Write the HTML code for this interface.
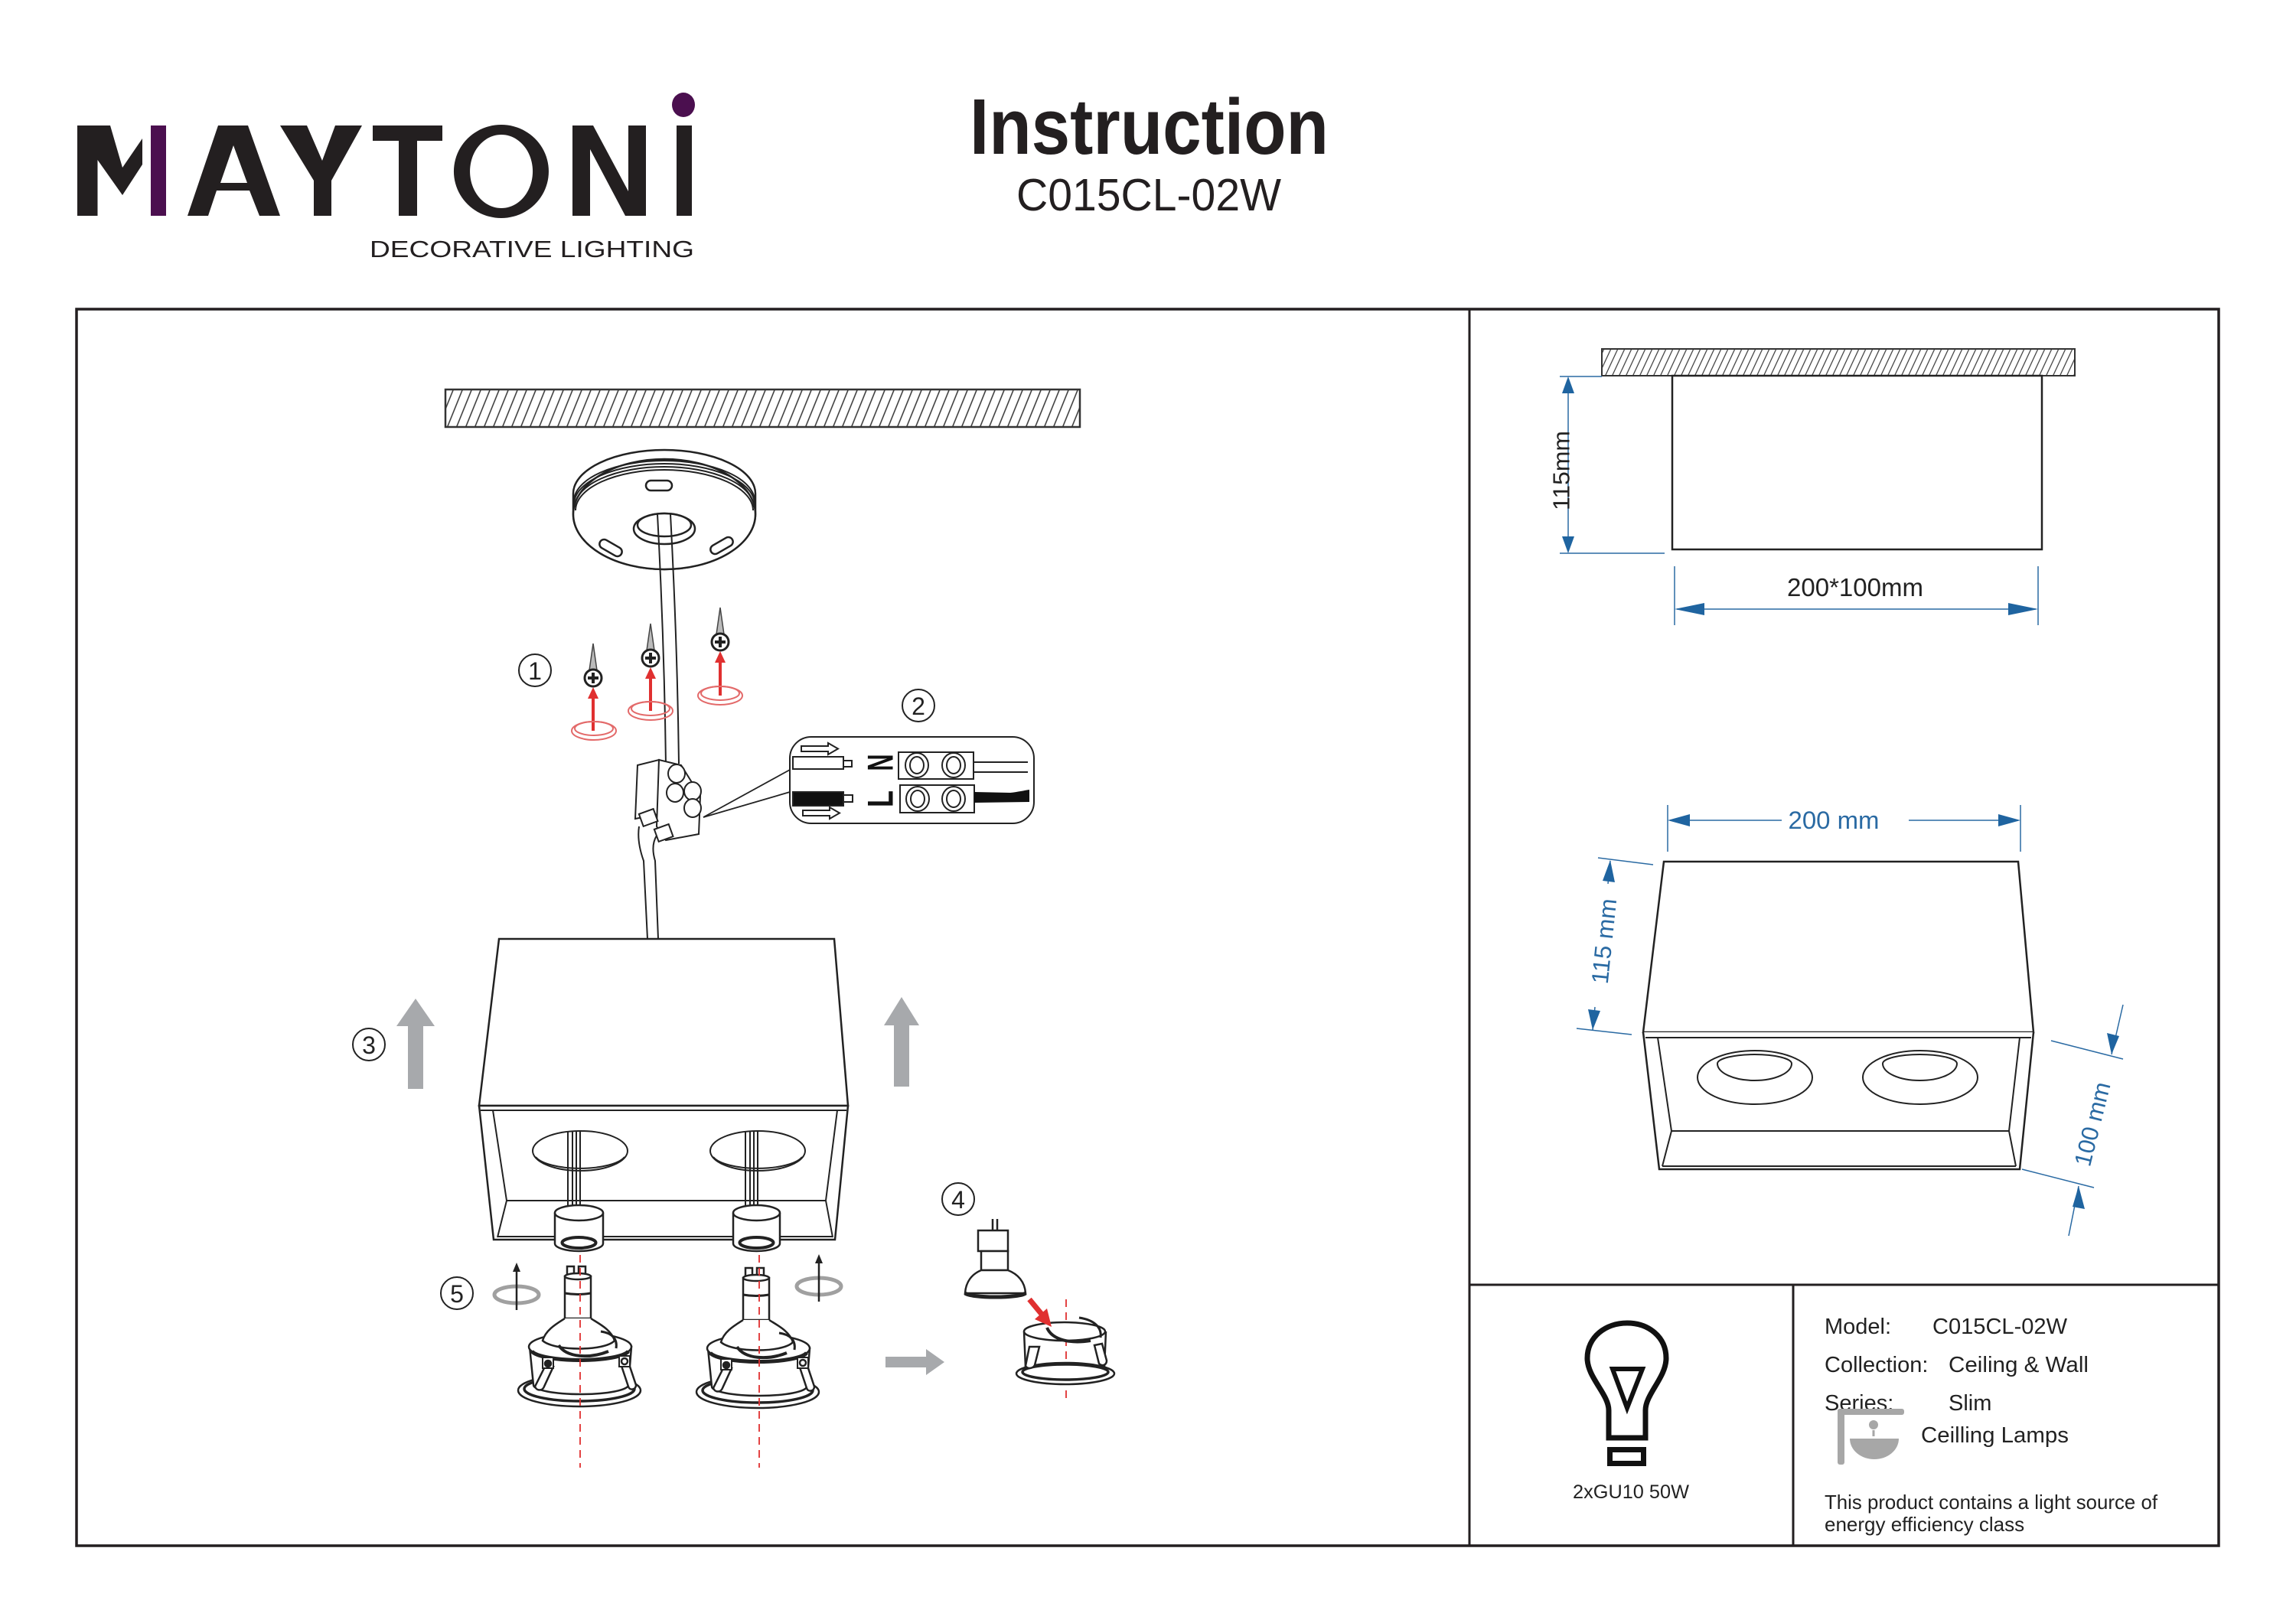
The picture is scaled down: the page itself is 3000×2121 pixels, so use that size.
<!DOCTYPE html>
<html><head><meta charset="utf-8"><style>
html,body{margin:0;padding:0;background:#fff;}
svg{display:block;}
text{font-family:"Liberation Sans",Arial,sans-serif;}
</style></head><body>
<svg width="3000" height="2121" viewBox="0 0 3000 2121" xmlns="http://www.w3.org/2000/svg">
<defs>
<pattern id="h1" patternUnits="userSpaceOnUse" width="12" height="60" patternTransform="skewX(-22)"><line x1="6" y1="-5" x2="6" y2="65" stroke="#333" stroke-width="1.6"/></pattern>
<pattern id="h2" patternUnits="userSpaceOnUse" width="9" height="60" patternTransform="skewX(-25)"><line x1="4.5" y1="-5" x2="4.5" y2="65" stroke="#333" stroke-width="1.3"/></pattern>
<g id="dl" fill="none" stroke="#222" stroke-width="2.5">
  <rect x="-14" y="-105" width="9" height="11" fill="#fff"/>
  <rect x="1" y="-105" width="9" height="11" fill="#fff"/>
  <path d="M-17,-92 L-17,-37 L17,-37 L17,-92 Z" fill="#fff"/>
  <ellipse cx="0" cy="-92" rx="17" ry="4" fill="#fff"/>
  <path d="M-17,-70 Q0,-67 17,-70" stroke-width="3"/>
  <ellipse cx="2" cy="57" rx="80" ry="21" fill="#fff"/>
  <ellipse cx="2" cy="55" rx="72" ry="16" stroke-width="3.5"/>
  <path d="M-63,0 L-58,50 A62,12 0 0 0 66,50 L70,0 Z" fill="#fff"/>
  <ellipse cx="3" cy="0" rx="67" ry="18" fill="#fff"/>
  <path d="M-17,-37 C-28,-30 -42,-22 -46,-8 C-30,6 35,6 48,-8 C44,-22 28,-30 17,-37" fill="#fff"/>
  <path d="M-60,6 A64,14 0 0 0 66,6" stroke-width="5"/>
  <path d="M-25,-2 C-15,14 15,16 40,6" stroke-width="4"/>
  <path d="M30,-20 C45,-18 52,-10 50,2" stroke-width="3"/>
  <path d="M-42,24 L-56,52 C-54,58 -46,58 -44,52 L-32,26 Z" fill="#fff"/>
  <path d="M56,22 L66,52 C68,58 76,56 76,50 L66,20 Z" fill="#fff"/>
  <rect x="-46" y="14" width="14" height="14" fill="#fff" stroke-width="2"/>
  <rect x="54" y="12" width="14" height="14" fill="#fff" stroke-width="2"/>
  <circle cx="-39" cy="22" r="4" fill="#222"/>
  <circle cx="61" cy="19" r="4" fill="#fff"/>
</g>
</defs>

<!-- LOGO -->
<polygon points="101,164 144,164 160,219 186,181 186,215 160,255 127.5,209 127.5,282 101,282" fill="#231f20"/>
<rect x="197" y="164" width="20" height="118" fill="#4b0f4f"/>
<path d="M245,282 L285,164 L324,164 L366,282 L339,282 L326,249 L283,249 L272,282 Z M288,239 L323,239 L305,190 Z" fill="#231f20" fill-rule="evenodd"/>
<polygon points="366,164 401,164 421,210 438,164 473,164 433,236 433,282 410,282 410,236" fill="#231f20"/>
<path d="M487,164 L578,164 L578,184 L545,184 L545,282 L521,282 L521,184 L487,184 Z" fill="#231f20"/>
<path d="M655,163 A62,61 0 1 1 654.9,163 Z M655,176 A41,48 0 1 0 655.1,176 Z" fill="#231f20" fill-rule="evenodd"/>
<polygon points="748,164 775,164 821,250 821,164 844,164 844,282 817,282 771,195 771,282 748,282" fill="#231f20"/>
<rect x="884" y="164" width="20" height="118" fill="#231f20"/>
<ellipse cx="893" cy="137" rx="15" ry="16" fill="#4b0f4f"/>
<text x="483" y="336" font-size="31" textLength="424" lengthAdjust="spacingAndGlyphs" fill="#231f20">DECORATIVE LIGHTING</text>

<!-- TITLE -->
<text x="1267" y="201" font-size="103" font-weight="bold" textLength="469" lengthAdjust="spacingAndGlyphs" fill="#231f20">Instruction</text>
<text x="1328" y="275" font-size="59" textLength="346" lengthAdjust="spacingAndGlyphs" fill="#231f20">C015CL-02W</text>

<!-- FRAME -->
<g stroke="#231f20" fill="none">
<rect x="100" y="404" width="2799" height="1616" stroke-width="3.5"/>
<line x1="1920" y1="404" x2="1920" y2="2020" stroke-width="3"/>
<line x1="1920" y1="1679" x2="2899" y2="1679" stroke-width="3"/>
<line x1="2343" y1="1679" x2="2343" y2="2020" stroke-width="3"/>
</g>

<!-- LEFT: ceiling -->
<rect x="582" y="509" width="829" height="49" fill="url(#h1)" stroke="#333" stroke-width="2.5"/>

<!-- canopy -->
<g stroke="#222" stroke-width="2.5" fill="#fff">
<path d="M749,645 A119,57 0 0 1 987,645 L987,672 A119,72 0 0 1 749,672 Z"/>
<ellipse cx="868" cy="672" rx="119" ry="72"/>
<g fill="none" stroke-width="2">
<path d="M750,655 A118,53 0 0 1 986,655"/>
<path d="M750,659 A118,53 0 0 1 986,659"/>
<path d="M751,663 A117,53 0 0 1 985,663"/>
<path d="M752,667 A116,53 0 0 1 984,667"/>
</g>
<ellipse cx="868" cy="691" rx="40" ry="20"/>
<ellipse cx="868" cy="686" rx="35" ry="15"/>
<rect x="844" y="628" width="34" height="13" rx="6.5"/>
<rect x="782" y="710" width="32" height="12" rx="6" transform="rotate(30 798 716)"/>
<rect x="927" y="707" width="32" height="12" rx="6" transform="rotate(-30 943 713)"/>
</g>
<!-- cable -->
<g stroke="#222" stroke-width="2" fill="none">
<path d="M859,672 Q868,840 870,1000"/>
<path d="M876,672 Q885,840 887,998"/>
<path d="M835,1080 Q832,1100 841,1125 L846,1227"/>
<path d="M858,1092 Q850,1105 856,1125 L860,1227"/>
</g>
<!-- terminal block -->
<g stroke="#222" stroke-width="2" fill="#fff">
<polygon points="833,1000 861,993 860,1064 830,1070"/>
<polygon points="861,993 890,1000 915,1040 913,1090 870,1098 858,1080"/>
<ellipse cx="884" cy="1011" rx="11" ry="12"/>
<ellipse cx="882" cy="1036" rx="11" ry="12"/>
<ellipse cx="905" cy="1034" rx="11" ry="12"/>
<ellipse cx="905" cy="1056" rx="11" ry="12"/>
<rect x="837" y="1060" width="20" height="17" transform="rotate(-20 847 1068)"/>
<rect x="857" y="1080" width="20" height="17" transform="rotate(-20 867 1088)"/>
</g>
<g stroke="#222" stroke-width="1.8" fill="none">
<line x1="919" y1="1068" x2="1032" y2="1006"/>
<line x1="919" y1="1068" x2="1032" y2="1035"/>
</g>

<!-- screws -->
<g>
<g stroke="#444" stroke-width="1.5" fill="#bbb">
<polygon points="775,841 770,876 780,876"/>
<polygon points="850,815 845,850 855,850"/>
<polygon points="941,794 936,829 946,829"/>
</g>
<g fill="#fff" stroke="#222" stroke-width="3">
<circle cx="775" cy="886" r="11"/>
<circle cx="850" cy="860" r="11"/>
<circle cx="941" cy="839" r="11"/>
</g>
<g stroke="#222" stroke-width="4">
<path d="M768,886 L782,886 M775,879 L775,893"/>
<path d="M843,860 L857,860 M850,853 L850,867"/>
<path d="M934,839 L948,839 M941,832 L941,846"/>
</g>
<g stroke="#e03030" stroke-width="4" fill="none">
<line x1="775" y1="955" x2="775" y2="910"/>
<line x1="850" y1="929" x2="850" y2="884"/>
<line x1="941" y1="909" x2="941" y2="863"/>
</g>
<g fill="#e03030">
<polygon points="775,898 768,913 782,913"/>
<polygon points="850,872 843,887 857,887"/>
<polygon points="941,851 934,866 948,866"/>
</g>
<g stroke="#e36a6a" stroke-width="2" fill="none">
<ellipse cx="776" cy="955" rx="29" ry="12"/><ellipse cx="776" cy="952" rx="25" ry="9"/>
<ellipse cx="850" cy="929" rx="29" ry="12"/><ellipse cx="850" cy="926" rx="25" ry="9"/>
<ellipse cx="941" cy="909" rx="29" ry="12"/><ellipse cx="941" cy="906" rx="25" ry="9"/>
</g>
</g>

<!-- callout box -->
<g stroke="#222" stroke-width="2" fill="#fff">
<rect x="1032" y="963" width="319" height="113" rx="28"/>
<polygon points="1047,975 1082,975 1082,971 1095,978.5 1082,986 1082,982 1047,982"/>
<polygon points="1049,1059 1084,1059 1084,1055 1097,1062.5 1084,1070 1084,1066 1049,1066"/>
<rect x="1036" y="989" width="66" height="16"/>
<rect x="1102" y="994" width="11" height="8"/>
<rect x="1036" y="1035" width="66" height="18" fill="#111"/>
<rect x="1102" y="1039" width="12" height="9"/>
<rect x="1174" y="983" width="98" height="35"/>
<rect x="1176" y="1026" width="97" height="36"/>
<ellipse cx="1198" cy="1000" rx="15" ry="16"/><ellipse cx="1198" cy="1000" rx="9" ry="11"/>
<ellipse cx="1246" cy="1000" rx="15" ry="16"/><ellipse cx="1246" cy="1000" rx="9" ry="11"/>
<ellipse cx="1199" cy="1044" rx="15" ry="16"/><ellipse cx="1199" cy="1044" rx="9" ry="11"/>
<ellipse cx="1246" cy="1044" rx="15" ry="16"/><ellipse cx="1246" cy="1044" rx="9" ry="11"/>
<line x1="1272" y1="996" x2="1343" y2="996"/>
<line x1="1272" y1="1009" x2="1343" y2="1009"/>
</g>
<path d="M1273,1035 L1320,1036 C1330,1035 1338,1033 1345,1032 L1345,1048 L1273,1049 Z" fill="#111"/>
<text transform="translate(1150,996.5) rotate(-90)" text-anchor="middle" dominant-baseline="central" font-size="47" font-weight="bold" textLength="22" lengthAdjust="spacingAndGlyphs" fill="#111">N</text>
<text transform="translate(1150,1044) rotate(-90)" text-anchor="middle" dominant-baseline="central" font-size="47" font-weight="bold" textLength="22" lengthAdjust="spacingAndGlyphs" fill="#111">L</text>

<!-- circled numbers -->
<g fill="none" stroke="#222" stroke-width="2">
<circle cx="699" cy="876" r="21"/>
<circle cx="1200" cy="922" r="21"/>
<circle cx="482" cy="1365" r="21"/>
<circle cx="1252" cy="1567" r="21"/>
<circle cx="597" cy="1690" r="21"/>
</g>
<g font-size="32" fill="#222" text-anchor="middle">
<text x="699" y="888">1</text>
<text x="1200" y="934">2</text>
<text x="482" y="1377">3</text>
<text x="1252" y="1579">4</text>
<text x="597" y="1702">5</text>
</g>

<!-- box -->
<g stroke="#222" stroke-width="2.5" fill="#fff">
<polygon points="652,1227 1090,1227 1108,1445 626,1445"/>
<path d="M626,1445 L645,1620 L1091,1620 L1108,1445 Z"/>
</g>
<g stroke="#222" stroke-width="2" fill="none">
<line x1="628" y1="1451" x2="1106" y2="1451"/>
<path d="M644,1451 L662,1569 L1079,1569 L1094,1451"/>
<line x1="662" y1="1569" x2="650" y2="1617"/>
<line x1="1079" y1="1569" x2="1088" y2="1617"/>
<line x1="650" y1="1616" x2="1088" y2="1616"/>
<ellipse cx="758" cy="1504" rx="62" ry="26" fill="#fff"/>
<path d="M700,1512 A60,20 0 0 0 816,1512"/>
<ellipse cx="990" cy="1504" rx="62" ry="26" fill="#fff"/>
<path d="M932,1512 A60,20 0 0 0 1048,1512"/>
<path d="M742,1478 L742,1582 M748,1478 L748,1582 M753,1478 L753,1582 M758,1478 L758,1582"/>
<path d="M974,1478 L974,1582 M980,1478 L980,1582 M985,1478 L985,1582 M990,1478 L990,1582"/>
</g>
<!-- sockets -->
<g stroke="#222" stroke-width="2.5" fill="#fff">
<path d="M725,1585 L725,1625 A31.5,10 0 0 0 788,1625 L788,1585"/>
<ellipse cx="756.5" cy="1585" rx="31.5" ry="10"/>
<ellipse cx="756.5" cy="1624" rx="22" ry="7" stroke-width="4"/>
<path d="M958,1585 L958,1625 A30.5,10 0 0 0 1019,1625 L1019,1585"/>
<ellipse cx="988.5" cy="1585" rx="30.5" ry="10"/>
<ellipse cx="988.5" cy="1624" rx="22" ry="7" stroke-width="4"/>
</g>
<!-- downlights -->
<use href="#dl" transform="translate(755,1760)"/>
<use href="#dl" transform="translate(988,1762)"/>
<!-- red dashed -->
<g stroke="#e03030" stroke-width="1.8" stroke-dasharray="10,7" fill="none">
<line x1="758" y1="1640" x2="758" y2="1918"/>
<line x1="992" y1="1640" x2="992" y2="1918"/>
<line x1="1393" y1="1698" x2="1393" y2="1827"/>
</g>

<!-- rotation icons step 5 -->
<g fill="none">
<ellipse cx="675" cy="1692" rx="29" ry="11" stroke="#a0a0a0" stroke-width="5"/>
<ellipse cx="1070" cy="1681" rx="29" ry="11" stroke="#a0a0a0" stroke-width="5"/>
<line x1="675" y1="1712" x2="675" y2="1660" stroke="#222" stroke-width="2.5"/>
<line x1="1070" y1="1701" x2="1070" y2="1649" stroke="#222" stroke-width="2.5"/>
</g>
<polygon points="675,1650 670,1662 680,1662" fill="#222"/>
<polygon points="1070,1639 1065,1651 1075,1651" fill="#222"/>

<!-- gray arrows -->
<g fill="#a7a9ac">
<rect x="533" y="1340" width="20" height="83"/>
<polygon points="518,1341 568,1341 543,1305"/>
<rect x="1168" y="1339" width="20" height="81"/>
<polygon points="1155,1340 1201,1340 1178,1303"/>
<rect x="1157" y="1773" width="54" height="14"/>
<polygon points="1210,1763 1234,1780 1210,1797"/>
</g>

<!-- step 4 -->
<g stroke="#222" stroke-width="2.5" fill="#fff">
<path d="M1297,1593 L1297,1610 M1303,1593 L1303,1610" fill="none"/>
<rect x="1278" y="1608" width="39" height="27"/>
<rect x="1282" y="1635" width="35" height="25"/>
<path d="M1282,1660 C1270,1665 1262,1675 1261,1690 L1340,1690 C1339,1675 1330,1665 1317,1660 Z"/>
<path d="M1261,1690 A40,6 0 0 0 1340,1690" stroke-width="5" fill="none"/>
<ellipse cx="1392" cy="1795" rx="64" ry="14"/>
<ellipse cx="1392" cy="1793" rx="56" ry="10" stroke-width="3.5"/>
<path d="M1338,1740 L1340,1787 M1445,1740 L1443,1787" fill="none"/>
<ellipse cx="1391" cy="1740" rx="53" ry="12"/>
<path d="M1368,1735 C1375,1752 1400,1756 1425,1752" stroke-width="4" fill="none"/>
<path d="M1410,1722 C1430,1725 1440,1735 1438,1748" stroke-width="3" fill="none"/>
<path d="M1345,1760 L1340,1785 C1343,1790 1350,1788 1352,1784 L1358,1760 Z"/>
<path d="M1430,1758 L1436,1782 C1440,1786 1446,1784 1446,1778 L1440,1756 Z"/>
</g>
<line x1="1345" y1="1698" x2="1364" y2="1721" stroke="#e03030" stroke-width="7"/>
<polygon points="1374,1734 1352,1724 1368,1710" fill="#e03030"/>

<!-- RIGHT 2D view -->
<rect x="2093" y="456" width="618" height="35" fill="url(#h2)" stroke="#333" stroke-width="2"/>
<rect x="2185" y="491" width="483" height="227" fill="#fff" stroke="#222" stroke-width="2.5"/>
<g stroke="#2a6aa3" stroke-width="1.5" fill="none">
<line x1="2049" y1="495" x2="2049" y2="720"/>
<line x1="2038" y1="492" x2="2093" y2="492"/>
<line x1="2038" y1="723" x2="2175" y2="723"/>
<line x1="2191" y1="796" x2="2660" y2="796"/>
<line x1="2188" y1="740" x2="2188" y2="817"/>
<line x1="2663" y1="740" x2="2663" y2="817"/>
</g>
<g fill="#1f64a0">
<polygon points="2049,492 2041,514 2057,514"/>
<polygon points="2049,723 2041,701 2057,701"/>
<polygon points="2188,796 2227,788 2227,804"/>
<polygon points="2663,796 2624,788 2624,804"/>
</g>
<text transform="translate(2040,615) rotate(-90)" text-anchor="middle" dominant-baseline="central" font-size="31" textLength="104" lengthAdjust="spacingAndGlyphs" fill="#222">115mm</text>
<text x="2424" y="779" text-anchor="middle" font-size="33" textLength="178" lengthAdjust="spacingAndGlyphs" fill="#222">200*100mm</text>

<!-- RIGHT 3D view -->
<g stroke="#222" stroke-width="2.5" fill="#fff">
<polygon points="2174,1126 2637,1126 2657,1349 2147,1349"/>
<path d="M2147,1349 L2168,1528 L2639,1528 L2657,1349"/>
</g>
<g stroke="#222" stroke-width="2" fill="none">
<line x1="2150" y1="1356" x2="2654" y2="1356"/>
<path d="M2166,1356 L2184,1478 L2625,1478 L2639,1356"/>
<line x1="2184" y1="1478" x2="2172" y2="1524"/>
<line x1="2625" y1="1478" x2="2634" y2="1524"/>
<line x1="2172" y1="1524" x2="2634" y2="1524"/>
<ellipse cx="2293" cy="1408" rx="75" ry="35"/>
<path d="M2244,1390 A48.5,12 0 0 1 2341,1390 A48.5,22 0 0 1 2244,1390 Z"/>
<ellipse cx="2509" cy="1408" rx="75" ry="35"/>
<path d="M2460,1390 A48.5,12 0 0 1 2557,1390 A48.5,22 0 0 1 2460,1390 Z"/>
</g>
<g stroke="#2a6aa3" stroke-width="1.5" fill="none">
<line x1="2182" y1="1072" x2="2328" y2="1072"/>
<line x1="2494" y1="1072" x2="2637" y2="1072"/>
<line x1="2179" y1="1052" x2="2179" y2="1113"/>
<line x1="2640" y1="1052" x2="2640" y2="1113"/>
<line x1="2088" y1="1121" x2="2160" y2="1130"/>
<line x1="2060" y1="1344" x2="2132" y2="1352"/>
<line x1="2104" y1="1125" x2="2101" y2="1155"/>
<line x1="2081" y1="1346" x2="2084" y2="1316"/>
<line x1="2680" y1="1360" x2="2774" y2="1384"/>
<line x1="2642" y1="1528" x2="2736" y2="1552"/>
<line x1="2774" y1="1313" x2="2759" y2="1378"/>
<line x1="2703" y1="1615" x2="2716" y2="1550"/>
</g>
<g fill="#1f64a0">
<polygon points="2179,1072 2208,1064 2208,1080"/>
<polygon points="2640,1072 2611,1064 2611,1080"/>
<polygon points="2104,1124 2094,1151 2110,1153"/>
<polygon points="2081,1346 2075,1319 2091,1321"/>
<polygon points="2759,1378 2753,1350 2769,1354"/>
<polygon points="2716,1550 2708,1577 2724,1580"/>
</g>
<text x="2396" y="1083" text-anchor="middle" font-size="32" textLength="119" lengthAdjust="spacingAndGlyphs" fill="#2a6aa3">200 mm</text>
<text transform="translate(2096,1230) rotate(-84)" text-anchor="middle" dominant-baseline="central" font-size="31" textLength="112" lengthAdjust="spacingAndGlyphs" fill="#2a6aa3">115 mm</text>
<text transform="translate(2734,1469) rotate(-76)" text-anchor="middle" dominant-baseline="central" font-size="31" textLength="112" lengthAdjust="spacingAndGlyphs" fill="#2a6aa3">100 mm</text>

<!-- BOTTOM INFO -->
<path d="M2102,1879 L2102,1843 C2102,1822 2074,1800 2074,1775 C2074,1747 2098,1729 2126,1729 C2154,1729 2177,1747 2177,1775 C2177,1800 2150,1822 2150,1843 L2150,1879 Z" fill="none" stroke="#111" stroke-width="7"/>
<polygon points="2107,1789 2146,1789 2126,1840" fill="none" stroke="#111" stroke-width="6"/>
<rect x="2103.5" y="1894.5" width="44" height="18" fill="none" stroke="#111" stroke-width="7"/>
<text x="2131" y="1958" text-anchor="middle" font-size="25" textLength="152" lengthAdjust="spacingAndGlyphs" fill="#222">2xGU10 50W</text>

<g font-size="29" fill="#222">
<text x="2384" y="1743">Model:</text>
<text x="2525" y="1743" textLength="176" lengthAdjust="spacingAndGlyphs">C015CL-02W</text>
<text x="2384" y="1793">Collection:</text>
<text x="2546" y="1793" textLength="183" lengthAdjust="spacingAndGlyphs">Ceiling &amp; Wall</text>
<text x="2384" y="1843">Series:</text>
<text x="2546" y="1843">Slim</text>
</g>
<g fill="#a7a7a7">
<rect x="2401" y="1841" width="9" height="73" rx="3"/>
<rect x="2401" y="1841" width="87" height="8" rx="3"/>
<path d="M2417,1880 L2481,1880 A32,27 0 0 1 2417,1880 Z"/>
<circle cx="2448" cy="1862" r="6"/>
<rect x="2446.5" y="1869" width="3" height="8"/>
</g>
<text x="2510" y="1885" font-size="29" textLength="193" lengthAdjust="spacingAndGlyphs" fill="#222">Ceilling Lamps</text>
<text x="2384" y="1972" font-size="26" textLength="435" lengthAdjust="spacingAndGlyphs" fill="#222">This product contains a light source of</text>
<text x="2384" y="2001" font-size="26" fill="#222">energy efficiency class</text>
</svg>
</body></html>
